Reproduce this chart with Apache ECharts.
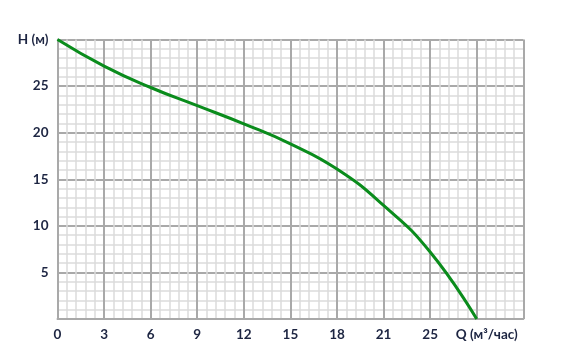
<!DOCTYPE html>
<html>
<head>
<meta charset="utf-8">
<script src="https://cdn.jsdelivr.net/npm/echarts@6/dist/echarts.min.js"></script>
<style>html,body{margin:0;padding:0;background:#fff}#c{width:567px;height:363px}</style>
</head>
<body>
<div id="c"></div>
<script>
var flowQ = [0, 3, 6, 9, 12, 15, 18, 21, 24, 27];
var headH = [30, 27.15, 24.85, 22.9, 20.95, 18.8, 16.1, 12.2, 7.2, 0];
var xTickLabels = ['0', '3', '6', '9', '12', '15', '18', '21', '25', 'Q (м³/час)', ''];
var yTickLabels = ['', '5', '10', '15', '20', '25', 'H (м)'];

var data = flowQ.map(function (q, i) { return [q, headH[i]]; });
var textColor = '#1d2542';
var chart = echarts.init(document.getElementById('c'), null, {renderer: 'canvas'});
chart.setOption({
  animation: false,
  grid: {left: 57.5, right: 43.7, top: 39.5, bottom: 43.9, containLabel: false},
  xAxis: {
    type: 'value', min: 0, max: 30, interval: 3,
    axisLine: {show: true, lineStyle: {color: '#a9a9a9', width: 2}},
    axisTick: {show: false},
    minorTick: {show: false, splitNumber: 5},
    splitLine: {show: true, lineStyle: {color: '#a9a9a9', width: 2}},
    minorSplitLine: {show: true, lineStyle: {color: '#dcdcdc', width: 1.5}},
    axisLabel: {
      color: textColor, fontFamily: 'Lato', fontWeight: 'bold', fontSize: 13.5, margin: 9,
      formatter: function (v) {
        var i = Math.round(v / 3);
        return i === 9 ? '{q|' + xTickLabels[i] + '}' : xTickLabels[i];
      },
      rich: {
        q: {color: textColor, fontFamily: 'Lato', fontWeight: 'bold', fontSize: 13.5, padding: [0, 0, 0, 20]}
      }
    }
  },
  yAxis: {
    type: 'value', min: 0, max: 30, interval: 5,
    axisLine: {show: true, lineStyle: {color: '#a9a9a9', width: 2}},
    axisTick: {show: false},
    minorTick: {show: false, splitNumber: 5},
    splitLine: {show: true, lineStyle: {color: '#a9a9a9', width: 2}},
    minorSplitLine: {show: true, lineStyle: {color: '#dcdcdc', width: 1.5}},
    axisLabel: {
      color: textColor, fontFamily: 'Lato', fontWeight: 'bold', fontSize: 13.5, margin: 9,
      formatter: function (v) { return yTickLabels[Math.round(v / 5)]; }
    }
  },
  series: [{
    type: 'line', data: data, smooth: 0.5, showSymbol: false,
    lineStyle: {color: '#0a8c1c', width: 3}
  }]
});
</script>
</body>
</html>
